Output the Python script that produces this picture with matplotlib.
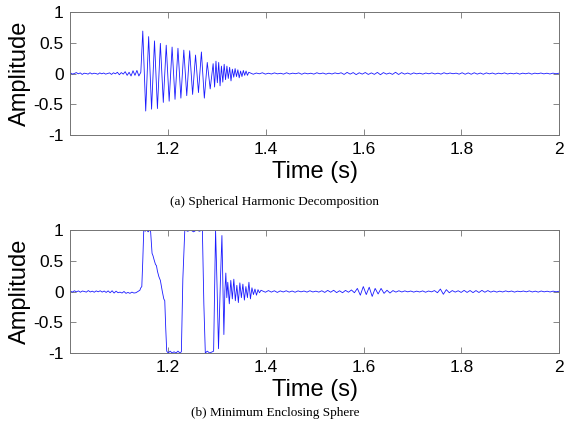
import numpy as np
import matplotlib
matplotlib.use('Agg')
import matplotlib.pyplot as plt

plt.rcParams['font.family'] = 'Liberation Sans'
plt.rcParams['axes.unicode_minus'] = False

# ---- (a) spherical harmonic decomposition: segments ----
sh_pre_span = (1.000, 1.144)
sh_pre = [0.01, -0.01, 0.0, 0.015, -0.005, 0.01, -0.015, 0.005, 0.0, -0.01,
          0.012, -0.008, 0.005, 0.0, -0.012, 0.01, -0.005, 0.008, -0.01, 0.0,
          0.01, -0.015, 0.012, -0.005, 0.02, -0.02, 0.015, -0.01, 0.03, -0.03,
          0.02, -0.04, 0.045, -0.03, 0.05, -0.04, 0.02]

sh_osc_span = (1.148, 1.292)
sh_osc = [0.69, -0.61, 0.60, -0.58, 0.53, -0.57, 0.49, -0.47, 0.46, -0.45,
          0.43, -0.42, 0.41, -0.40, 0.38, -0.36, 0.37, -0.34, 0.30, -0.31,
          0.35, -0.40, 0.18, -0.25, 0.16]

sh_decay_span = (1.295, 1.365)
sh_decay = [-0.22, 0.20, -0.15, 0.18, -0.20, 0.12, -0.14, 0.15, -0.10, 0.12,
            -0.08, 0.10, -0.12, 0.07, -0.06, 0.08, -0.05, 0.06, -0.07, 0.04,
            -0.05, 0.05, -0.03, 0.04, -0.03, 0.02]

sh_post_span = (1.368, 2.000)
sh_post = [0.01, -0.012, 0.008, -0.005, 0.012, -0.01, 0.005, -0.008, 0.01, -0.006,
           0.004, -0.01, 0.012, -0.008, 0.006, -0.004, 0.01, -0.012, 0.008, -0.006,
           0.005, -0.01, 0.012, -0.005, 0.008, -0.01, 0.006, -0.008, 0.01, -0.004,
           0.012, -0.015, 0.018, -0.01, 0.015, -0.018, 0.012, -0.01, 0.016, -0.015,
           0.01, -0.014, 0.018, -0.02, 0.015, -0.01, 0.008, -0.014, 0.02, -0.016,
           0.014, -0.01, 0.008, -0.012, 0.01, -0.006, 0.005, -0.01, 0.008, -0.005,
           0.01, -0.008, 0.006, -0.01, 0.012, -0.006, 0.008, -0.004, 0.006, -0.01,
           0.012, -0.012, 0.01, -0.012, 0.012, -0.01, 0.008, -0.012, 0.01, -0.006,
           0.008, -0.01, 0.006, -0.005, 0.01, -0.008, 0.005, -0.006, 0.008, -0.01,
           0.006, -0.005, 0.008, -0.01, 0.006, -0.004, 0.008, -0.006, 0.005, -0.008,
           0.006, -0.004, 0.005]

# ---- (b) minimum enclosing sphere ----
mes_pre_span = (1.000, 1.142)
mes_pre = [0.005, -0.01, 0.012, -0.006, 0.01, -0.012, 0.008, 0.0, -0.01, 0.015,
           -0.008, 0.006, -0.012, 0.01, -0.005, 0.012, -0.01, 0.008, -0.015, 0.01,
           -0.02, 0.012, -0.025, 0.005, -0.02, -0.01, -0.025, 0.0, -0.03, -0.015,
           -0.03, -0.01, -0.025, -0.02, 0.0, 0.02]

mes_main_t = [1.144, 1.146, 1.148, 1.150, 1.153, 1.156, 1.159, 1.162, 1.164, 1.167,
              1.169, 1.171, 1.174, 1.176, 1.178, 1.181, 1.184, 1.188, 1.191, 1.193,
              1.195, 1.197, 1.200, 1.204, 1.208, 1.212, 1.216, 1.220, 1.224, 1.227,
              1.230, 1.234, 1.240, 1.246, 1.252, 1.258, 1.264, 1.270, 1.273, 1.276,
              1.280, 1.285, 1.290, 1.293, 1.297, 1.300, 1.303, 1.307, 1.310, 1.312,
              1.314, 1.316, 1.318, 1.320]
mes_main = [0.06, 0.08, 0.50, 1.00, 0.98, 1.00, 0.97, 1.00, 0.98, 0.62,
            0.58, 0.52, 0.44, 0.42, 0.33, 0.24, 0.18, 0.00, -0.12, -0.15,
            -0.60, -0.97, -1.00, -0.97, -1.00, -0.98, -1.00, -0.97, -1.00, -0.98,
            0.20, 1.00, 0.98, 1.00, 0.97, 1.00, 0.98, 1.00, -0.20, -1.00,
            -0.97, -1.00, -0.98, -0.97, 1.00, 0.10, -0.93, 0.20, 0.91, 0.10,
            -0.70, 0.00, 0.30, -0.10]

mes_decay_span = (1.322, 1.390)
mes_decay = [0.15, -0.20, 0.18, -0.12, 0.20, -0.15, 0.10, -0.18, 0.14, -0.10,
             0.12, -0.14, 0.08, -0.10, 0.15, -0.12, 0.06, -0.05, 0.04, -0.06,
             0.03, -0.02, 0.02]

mes_post_span = (1.393, 2.000)
mes_post = [0.01, -0.012, 0.015, -0.01, 0.012, -0.015, 0.01, -0.008, 0.012, -0.01,
            0.008, -0.012, 0.01, -0.006, 0.008, -0.01, 0.012, -0.008, 0.006, -0.01,
            0.012, -0.015, 0.018, -0.012, 0.02, -0.018, 0.012, -0.02, 0.018, -0.012,
            0.025, -0.02, 0.05, -0.06, 0.08, -0.05, 0.07, -0.08, 0.05, -0.04,
            0.05, -0.03, 0.02, -0.025, 0.015, -0.01, 0.012, -0.008, 0.01, -0.006,
            0.008, -0.01, 0.006, -0.008, 0.01, -0.012, 0.008, -0.006, 0.015, -0.02,
            0.04, -0.045, 0.03, -0.02, 0.015, -0.01, 0.012, -0.015, 0.018, -0.015,
            0.016, -0.018, 0.015, -0.016, 0.018, -0.012, 0.015, -0.01, 0.008, -0.01,
            0.006, -0.008, 0.01, -0.005, 0.008, -0.01, 0.006, -0.004, 0.008, -0.006,
            0.01, -0.008, 0.006, -0.01, 0.008, -0.006, 0.005, -0.008, 0.006, -0.005,
            0.004]

x_ticks = [1.2, 1.4, 1.6, 1.8, 2.0]
x_tick_labels = ['1.2', '1.4', '1.6', '1.8', '2']
y_ticks = [-1, -0.5, 0, 0.5, 1]
y_tick_labels = ['-1', '-0.5', '0', '0.5', '1']


def uniform(span, vals):
    return np.linspace(span[0], span[1], len(vals)), np.asarray(vals)


def assemble(parts):
    t = np.concatenate([p[0] for p in parts])
    v = np.concatenate([p[1] for p in parts])
    return t, v


t_a, y_a = assemble([uniform(sh_pre_span, sh_pre),
                     uniform(sh_osc_span, sh_osc),
                     uniform(sh_decay_span, sh_decay),
                     uniform(sh_post_span, sh_post)])

t_b, y_b = assemble([uniform(mes_pre_span, mes_pre),
                     (np.asarray(mes_main_t), np.asarray(mes_main)),
                     uniform(mes_decay_span, mes_decay),
                     uniform(mes_post_span, mes_post)])

fig = plt.figure(figsize=(5.67, 4.21), dpi=100)
ax_a = fig.add_axes([0.1243, 0.6793, 0.8616, 0.2922])
ax_b = fig.add_axes([0.1243, 0.1615, 0.8616, 0.2922])

for ax, t, y in [(ax_a, t_a, y_a), (ax_b, t_b, y_b)]:
    ax.plot(t, y, color='#1a1aff', lw=0.6)
    ax.set_xlim(1.0, 2.0)
    ax.set_ylim(-1, 1)
    ax.set_xticks(x_ticks)
    ax.set_xticklabels(x_tick_labels)
    ax.set_yticks(y_ticks)
    ax.set_yticklabels(y_tick_labels)
    ax.tick_params(direction='in', length=4, width=0.6, color='0.45',
                   labelsize=12.5, top=True, right=True, pad=5)
    for s in ax.spines.values():
        s.set_color('0.45')
        s.set_linewidth(0.7)
    ax.set_xlabel('Time (s)', fontsize=17, labelpad=3)
    ax.set_ylabel('Amplitude', fontsize=17, labelpad=2)

fig.text(0.485, 1 - 202 / 421, '(a) Spherical Harmonic Decomposition',
         family='Liberation Serif', fontsize=9.5, ha='center', va='center')
fig.text(0.485, 1 - 413 / 421, '(b) Minimum Enclosing Sphere',
         family='Liberation Serif', fontsize=9.5, ha='center', va='center')

fig.savefig('out.png', dpi=100)
